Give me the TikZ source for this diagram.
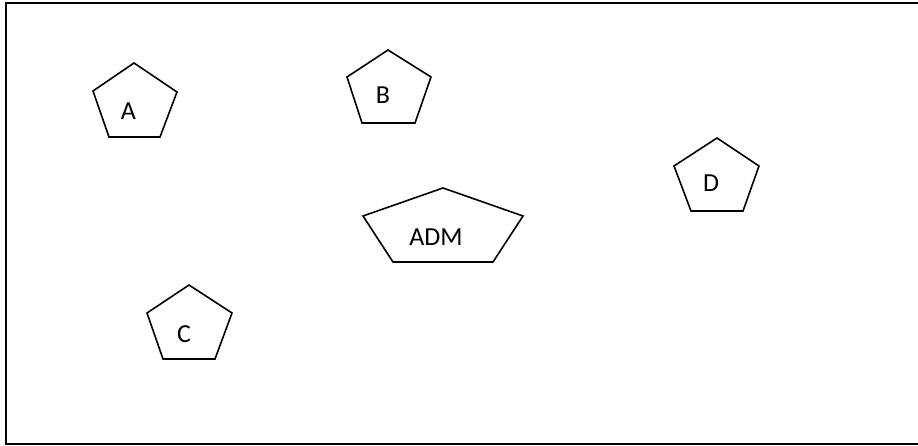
\documentclass[tikz,border=0pt]{standalone}
\usepackage{fontspec}
\setmainfont{Carlito}
\begin{document}
\begin{tikzpicture}[x=1pt,y=-1pt,
  pent/.style={draw=black,line width=1.6pt,line join=miter},
  lbl/.style={font=\fontsize{26}{28}\selectfont,inner sep=0pt}]
\useasboundingbox (0,0) rectangle (918,446);
\begin{scope}
\clip (0,0) rectangle (918,446);
\draw[line width=2pt] (6,3) rectangle (924,444);
\end{scope}
% A
\draw[pent] (134,63) -- (177,92) -- (160,137) -- (109,137) -- (93,91) -- cycle;
\node[lbl] (A) at (128.5,111) {A};
% B
\draw[pent] (388,50) -- (431,77) -- (415,123) -- (362,123) -- (347,77) -- cycle;
\node[lbl] (B) at (383,95) {B};
% D
\draw[pent] (717,138) -- (759,166) -- (743,211) -- (691,211) -- (674,166) -- cycle;
\node[lbl] (D) at (711,183) {D};
% ADM
\draw[pent] (443,188) -- (523,216) -- (493,262) -- (393,262) -- (363,216) -- cycle;
\node[lbl] (ADM) at (436,237) {ADM};
% C
\draw[pent] (189,285) -- (232,313) -- (215,359) -- (163,359) -- (147,313) -- cycle;
\node[lbl] (C) at (184,334) {C};
\end{tikzpicture}
\end{document}
